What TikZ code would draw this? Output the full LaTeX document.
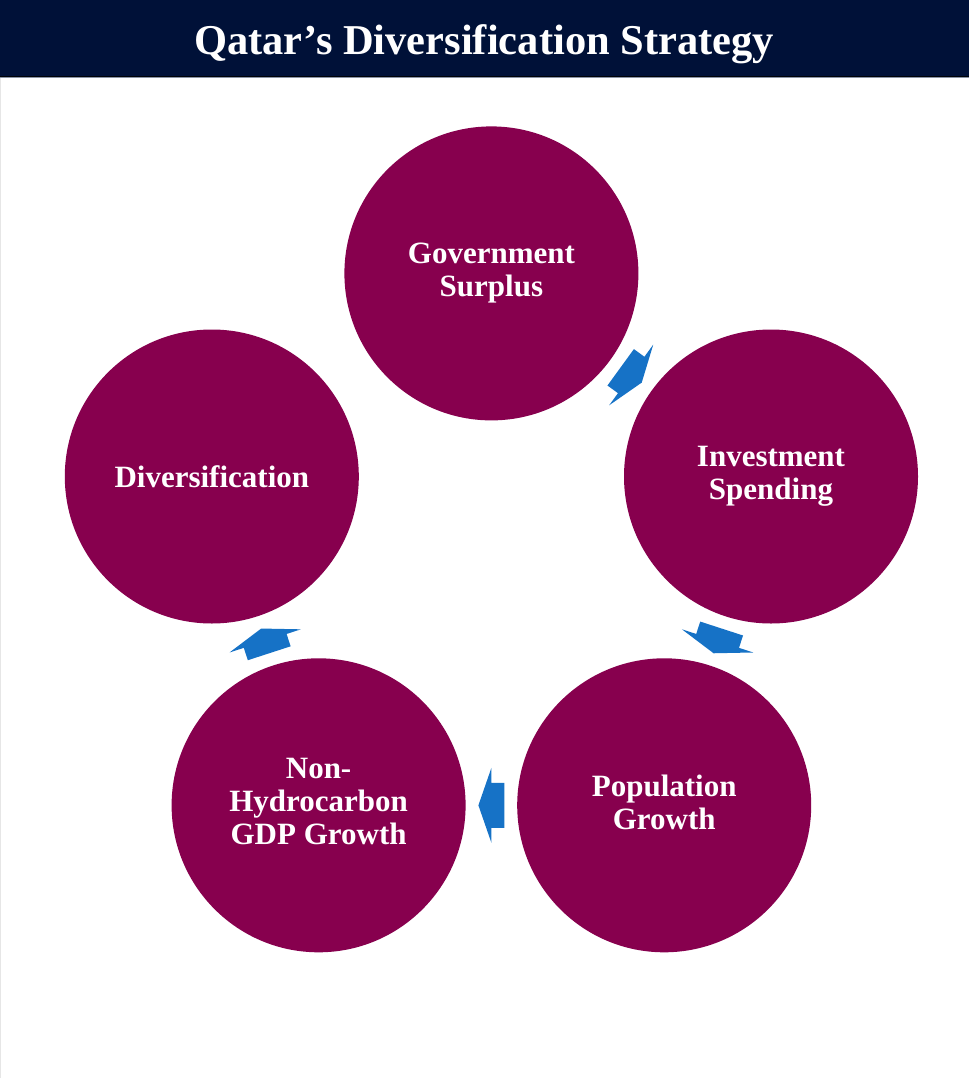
\documentclass[tikz,border=0pt]{standalone}
\usepackage{fontspec}
\setmainfont{Liberation Serif}
\usetikzlibrary{calc}
\definecolor{navy}{HTML}{001138}
\definecolor{berry}{HTML}{87004E}
\definecolor{arrowblue}{HTML}{1672C6}
\definecolor{edgegray}{HTML}{8A94A6}
\definecolor{sidegray}{HTML}{E6E6E6}
\newcommand{\circstrut}{\rule[-7pt]{0pt}{35pt}}
\newcommand{\cyclearrow}[2]{%
  \coordinate (m#1#2) at ($(#1)!0.5!(#2)$);
  \coordinate (t#1#2) at ($(m#1#2)!13pt!(#1)$);
  \fill[cyclearrowstyle]
    ($(m#1#2)!13pt!(#2)$) --
    ($(m#1#2)!37.5pt!90:(#2)$) --
    ($(m#1#2)!22.5pt!90:(#2)$) --
    ($(t#1#2)!22.5pt!90:(m#1#2)$) --
    ($(t#1#2)!22.5pt!-90:(m#1#2)$) --
    ($(m#1#2)!22.5pt!-90:(#2)$) --
    ($(m#1#2)!37.5pt!-90:(#2)$) -- cycle;}
\begin{document}
\begin{tikzpicture}[x=1pt,y=1pt,
  stage/.style={circle, fill=berry, minimum size=294pt, inner sep=0pt,
    text=white, align=center, font=\fontsize{31}{33}\selectfont\bfseries,
    execute at begin node=\circstrut, execute at end node=\circstrut},
  cyclearrowstyle/.style={fill=arrowblue},
  titletext/.style={anchor=base, text=white, font=\fontsize{42.5}{50}\selectfont\bfseries}]
\useasboundingbox (0,0) rectangle (969,-1078);
\fill[white] (0,0) rectangle (969,-1078);
\fill[navy] (0,0) rectangle (969,-76.5);
\draw[line width=1pt, black!85!navy] (0,-76.5) -- (969,-76.5);
\draw[line width=1pt, edgegray] (0,-77.8) -- (969,-77.8);
\draw[line width=1pt, sidegray] (0.5,-78.3) -- (0.5,-1078);
\node[titletext] (title) at (484,-55) {Qatar’s Diversification Strategy};
\node[stage] (gov) at (491.4,-273.4) {Government\\Surplus};
\node[stage] (inv) at (771.0,-476.5) {Investment\\Spending};
\node[stage] (pop) at (664.2,-805.3) {Population\\Growth};
\node[stage] (nonh) at (318.6,-805.3) {Non-\\Hydrocarbon\\GDP Growth};
\node[stage] (div) at (211.8,-476.5) {Diversification};
\cyclearrow{gov}{inv}
\cyclearrow{inv}{pop}
\cyclearrow{pop}{nonh}
\cyclearrow{nonh}{div}
\end{tikzpicture}
\end{document}
